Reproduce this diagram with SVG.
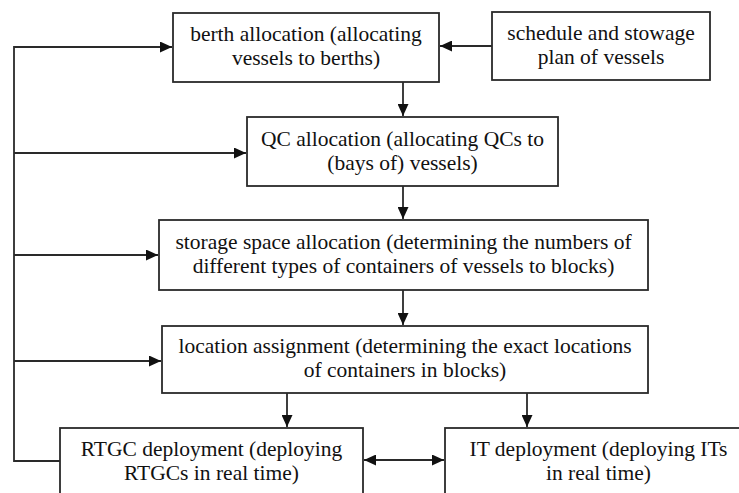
<svg xmlns="http://www.w3.org/2000/svg" width="739" height="493" viewBox="0 0 739 493">
<style>
.box{fill:#fff;stroke:#2a2a2a;stroke-width:1.8}
.t{font-family:"Liberation Serif","Times New Roman",serif;font-size:21.5px;fill:#111;text-anchor:middle}
.c{fill:none;stroke:#2a2a2a;stroke-width:1.8}
</style>
<defs>
<marker id="ah" markerUnits="userSpaceOnUse" markerWidth="13" markerHeight="11" refX="12" refY="5.5" orient="auto-start-reverse" viewBox="0 0 13 11">
<path d="M0,0 L12,5.5 L0,11 z" fill="#111"/>
</marker>
</defs>
<rect width="739" height="493" fill="#fff"/>
<g id="connectors">
<path class="c" d="M60,461 H14 V47 H172" marker-end="url(#ah)"/>
<path class="c" d="M14,153 H246" marker-end="url(#ah)"/>
<path class="c" d="M14,255 H158" marker-end="url(#ah)"/>
<path class="c" d="M14,361 H161" marker-end="url(#ah)"/>
<path class="c" d="M492,46 H440" marker-end="url(#ah)"/>
<path class="c" d="M403,82 V116" marker-end="url(#ah)"/>
<path class="c" d="M403,186 V219" marker-end="url(#ah)"/>
<path class="c" d="M403,290 V325" marker-end="url(#ah)"/>
<path class="c" d="M287,393 V427" marker-end="url(#ah)"/>
<path class="c" d="M527,393 V427" marker-end="url(#ah)"/>
<path class="c" d="M364,460 H444" marker-start="url(#ah)" marker-end="url(#ah)"/>
</g>
<g id="berth">
<rect class="box" x="173" y="13" width="266" height="69"/>
<text class="t" x="306" y="41">berth allocation (allocating</text>
<text class="t" x="306" y="65">vessels to berths)</text>
</g>
<g id="schedule">
<rect class="box" x="492" y="12" width="218" height="68"/>
<text class="t" x="601" y="40">schedule and stowage</text>
<text class="t" x="601" y="64">plan of vessels</text>
</g>
<g id="qc">
<rect class="box" x="247" y="117" width="311" height="69"/>
<text class="t" x="402.5" y="146">QC allocation (allocating QCs to</text>
<text class="t" x="402.5" y="170">(bays of) vessels)</text>
</g>
<g id="storage">
<rect class="box" x="159" y="220" width="489" height="70"/>
<text class="t" x="403.5" y="249">storage space allocation (determining the numbers of</text>
<text class="t" x="403.5" y="273">different types of containers of vessels to blocks)</text>
</g>
<g id="location">
<rect class="box" x="162" y="326" width="486" height="67"/>
<text class="t" x="405" y="353">location assignment (determining the exact locations</text>
<text class="t" x="405" y="377">of containers in blocks)</text>
</g>
<g id="rtgc">
<rect class="box" x="60" y="428" width="303" height="80"/>
<text class="t" x="211.5" y="456">RTGC deployment (deploying</text>
<text class="t" x="211.5" y="480">RTGCs in real time)</text>
</g>
<g id="it">
<rect class="box" x="445" y="428" width="307" height="80"/>
<text class="t" x="598.5" y="456">IT deployment (deploying ITs</text>
<text class="t" x="598.5" y="480">in real time)</text>
</g>
</svg>
